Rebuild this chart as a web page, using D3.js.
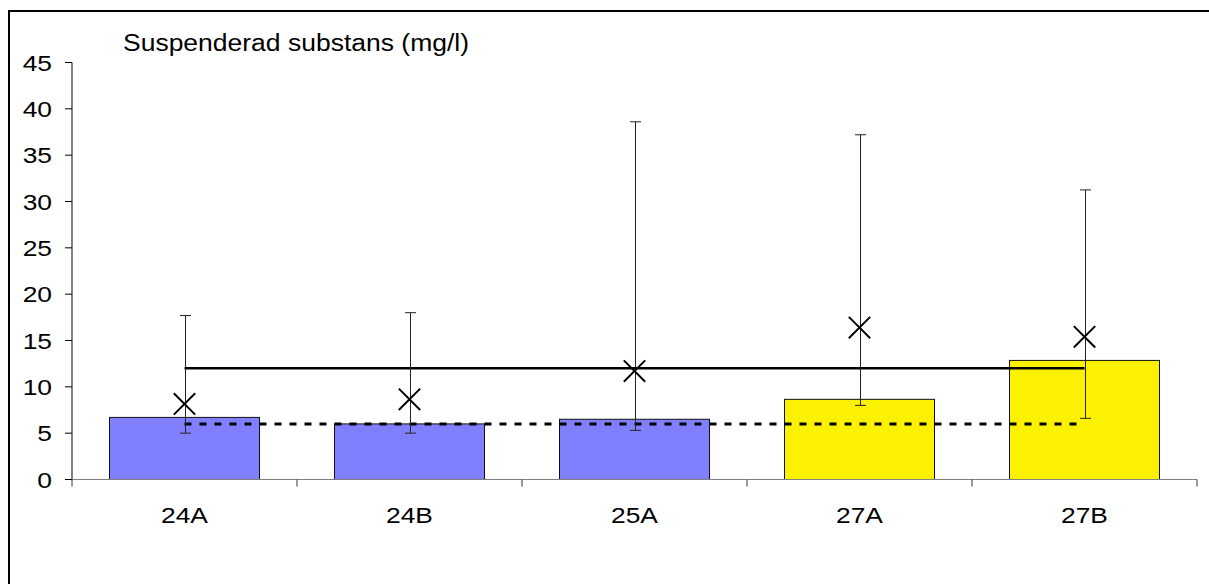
<!DOCTYPE html>
<html>
<head>
<meta charset="utf-8">
<script src="https://cdn.jsdelivr.net/npm/d3@7/dist/d3.min.js"></script>
<style>
  html, body { margin: 0; padding: 0; background: #fff; overflow: hidden; }
  svg { display: block; overflow: hidden; }
  text { font-family: "Liberation Sans", Arial, sans-serif; fill: #000; }
</style>
</head>
<body>
<svg id="chart" width="1209" height="584"></svg>
<script>
// Sampling stations
const categories = ["24A", "24B", "25A", "27A", "27B"];
// Bar values (mg/l)
const barValues = [6.7, 6.0, 6.5, 8.65, 12.85];
// Cross markers (mg/l)
const crossValues = [8.15, 8.65, 11.7, 16.4, 15.4];
// Range of each station: low and high (mg/l)
const rangeLow = [5.0, 5.0, 5.3, 8.0, 6.6];
const rangeHigh = [17.7, 18.0, 38.6, 37.2, 31.25];
// Bar colour group per station
const barGroup = ["blue", "blue", "blue", "yellow", "yellow"];
// Horizontal reference levels (mg/l)
const solidLevel = 12;
const dashedLevel = 6;
// Y tick values
const yTicks = [0, 5, 10, 15, 20, 25, 30, 35, 40, 45];
const title = "Suspenderad substans (mg/l)";

const svg = d3.select("#chart");
const groupColor = { blue: "#8080ff", yellow: "#fcf200" };

// Outer frame: only the left and top edges fall inside the page
svg.append("path")
  .attr("d", "M9,584 V11 H1209")
  .attr("fill", "none").attr("stroke", "#000").attr("stroke-width", 2);

const x = d3.scaleBand().domain(categories).range([72, 1197]).paddingInner(0).paddingOuter(0);
const y = d3.scaleLinear().domain([0, 45]).range([479.5, 62.5]);
const barW = x.bandwidth() / 1.5;
const cx = d => x(d) + x.bandwidth() / 2;

const sx = 1.2; // horizontal stretch of the label glyphs

// Title
svg.append("text")
  .attr("x", 123).attr("y", 51)
  .attr("font-size", 23.5)
  .attr("textLength", 346)
  .attr("lengthAdjust", "spacingAndGlyphs")
  .text(title);

// Bars
svg.append("g").selectAll("rect")
  .data(categories)
  .join("rect")
  .attr("x", d => cx(d) - barW / 2)
  .attr("y", (d, i) => y(barValues[i]))
  .attr("width", barW)
  .attr("height", (d, i) => y(0) - y(barValues[i]))
  .attr("fill", (d, i) => groupColor[barGroup[i]])
  .attr("stroke", "#111")
  .attr("stroke-width", 1);

// Y axis
const yAxis = svg.append("g");
yAxis.append("line")
  .attr("x1", 72).attr("x2", 72)
  .attr("y1", y(45)).attr("y2", y(0))
  .attr("stroke", "#000").attr("stroke-width", 1);
yAxis.selectAll("line.tick")
  .data(yTicks)
  .join("line")
  .attr("class", "tick")
  .attr("x1", 65).attr("x2", 72)
  .attr("y1", d => y(d)).attr("y2", d => y(d))
  .attr("stroke", "#000").attr("stroke-width", 1);
yAxis.selectAll("text")
  .data(yTicks)
  .join("text")
  .attr("text-anchor", "end")
  .attr("font-size", 22)
  .attr("transform", d => `translate(52,${y(d) + 8}) scale(${sx},1)`)
  .text(d => d);

// X axis
const xAxis = svg.append("g");
xAxis.append("line")
  .attr("x1", 72).attr("x2", 1197)
  .attr("y1", y(0)).attr("y2", y(0))
  .attr("stroke", "#808080").attr("stroke-width", 1.2);
const bounds = categories.map(d => x(d)).concat([x(categories[categories.length - 1]) + x.bandwidth()]);
xAxis.selectAll("line.tick")
  .data(bounds)
  .join("line")
  .attr("class", "tick")
  .attr("x1", d => d).attr("x2", d => d)
  .attr("y1", y(0)).attr("y2", y(0) + 7)
  .attr("stroke", "#333").attr("stroke-width", 1);
xAxis.selectAll("text")
  .data(categories)
  .join("text")
  .attr("text-anchor", "middle")
  .attr("font-size", 22)
  .attr("transform", d => `translate(${cx(d)},523) scale(${sx},1)`)
  .text(d => d);

// Reference levels
const firstC = cx(categories[0]);
const lastC = cx(categories[categories.length - 1]);
svg.append("line")
  .attr("x1", firstC).attr("x2", lastC)
  .attr("y1", y(dashedLevel)).attr("y2", y(dashedLevel))
  .attr("stroke", "#000").attr("stroke-width", 3)
  .attr("stroke-dasharray", "7,8");
svg.append("line")
  .attr("x1", firstC).attr("x2", lastC)
  .attr("y1", y(solidLevel)).attr("y2", y(solidLevel))
  .attr("stroke", "#000").attr("stroke-width", 2.5);

// Range whiskers
const whisk = svg.append("g").attr("stroke", "#222").attr("stroke-width", 1);
categories.forEach((d, i) => {
  const c = Math.round(cx(d)) + 0.5;
  whisk.append("line").attr("x1", c).attr("x2", c)
    .attr("y1", y(rangeHigh[i])).attr("y2", y(rangeLow[i]));
  whisk.append("line").attr("x1", c - 5.5).attr("x2", c + 5.5)
    .attr("y1", y(rangeHigh[i])).attr("y2", y(rangeHigh[i]));
  whisk.append("line").attr("x1", c - 5.5).attr("x2", c + 5.5)
    .attr("y1", y(rangeLow[i])).attr("y2", y(rangeLow[i]));
});

// Cross markers
const cross = d3.symbol().type(d3.symbolX).size(300);
svg.append("g").selectAll("path")
  .data(categories)
  .join("path")
  .attr("d", cross)
  .attr("transform", (d, i) => `translate(${cx(d)},${y(crossValues[i])})`)
  .attr("fill", "none")
  .attr("stroke", "#000")
  .attr("stroke-width", 2);
</script>
</body>
</html>
